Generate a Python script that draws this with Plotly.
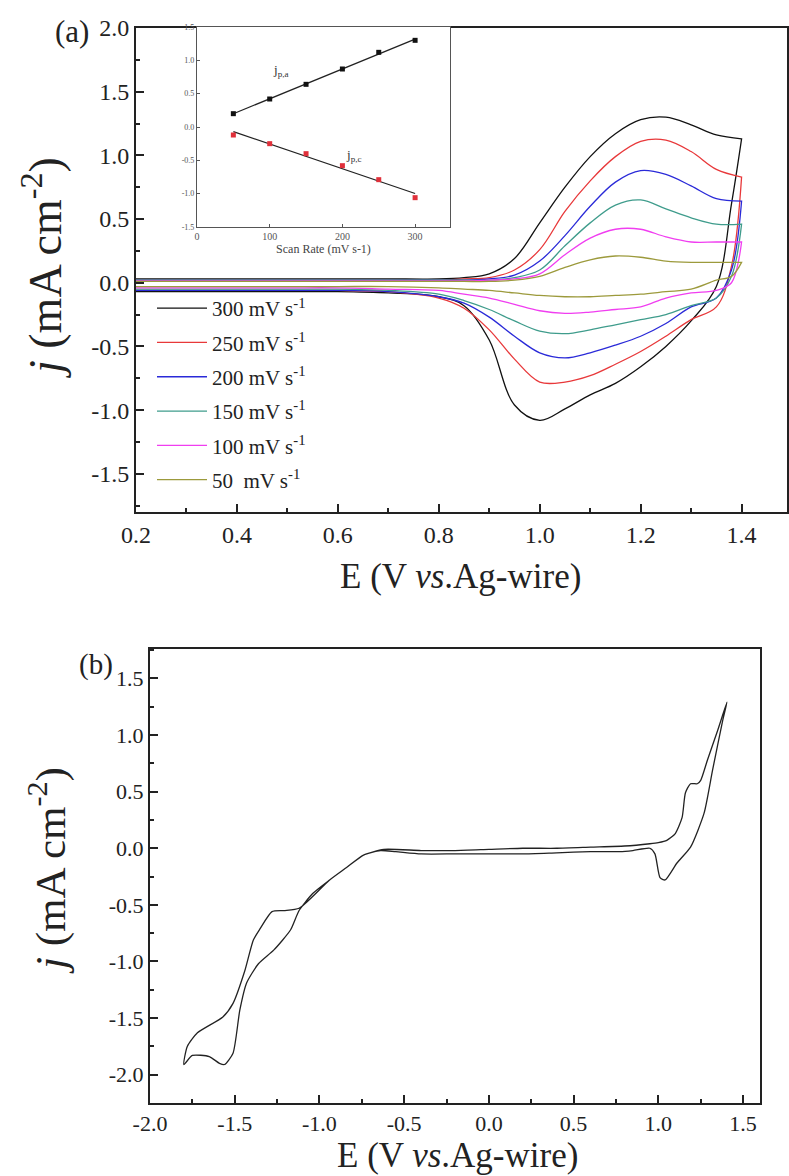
import plotly.graph_objects as go
import numpy as np

# ---------------- Panel (a) data ----------------
E_fwd = [0.2, 0.3, 0.4, 0.5, 0.6, 0.7, 0.8, 0.85, 0.9, 0.95, 1.0, 1.05, 1.1, 1.15, 1.2, 1.25, 1.3, 1.35, 1.4]
E_rev = [1.4, 1.38, 1.35, 1.3, 1.25, 1.2, 1.15, 1.1, 1.05, 1.0, 0.95, 0.9, 0.85, 0.8, 0.7, 0.6, 0.5, 0.4, 0.3, 0.2]

scan_labels = ["300 mV s<sup>-1</sup>", "250 mV s<sup>-1</sup>", "200 mV s<sup>-1</sup>",
               "150 mV s<sup>-1</sup>", "100 mV s<sup>-1</sup>", "50  mV s<sup>-1</sup>"]
colors = ["#111111", "#e8383a", "#2a2ad8", "#3f9c8c", "#f03ef0", "#9c9a3c"]

j300_fwd = [0.03, 0.03, 0.03, 0.03, 0.03, 0.03, 0.03, 0.04, 0.07, 0.19, 0.47, 0.75, 0.99, 1.17, 1.28, 1.30, 1.24, 1.16, 1.13]
j300_rev = [1.13, 0.62, -0.03, -0.30, -0.50, -0.66, -0.79, -0.88, -0.99, -1.08, -0.96, -0.45, -0.18, -0.11, -0.08, -0.07, -0.07, -0.07, -0.07, -0.07]
j250_fwd = [0.02, 0.02, 0.02, 0.02, 0.02, 0.02, 0.02, 0.03, 0.04, 0.10, 0.26, 0.56, 0.80, 0.99, 1.11, 1.12, 1.03, 0.89, 0.83]
j250_rev = [0.83, 0.13, -0.19, -0.29, -0.42, -0.54, -0.64, -0.73, -0.78, -0.78, -0.60, -0.37, -0.20, -0.12, -0.07, -0.06, -0.06, -0.06, -0.06, -0.06]
j200_fwd = [0.02, 0.02, 0.02, 0.02, 0.02, 0.02, 0.02, 0.02, 0.03, 0.06, 0.17, 0.37, 0.60, 0.79, 0.88, 0.85, 0.76, 0.66, 0.64]
j200_rev = [0.64, 0.10, -0.12, -0.19, -0.32, -0.42, -0.49, -0.55, -0.59, -0.55, -0.42, -0.27, -0.16, -0.11, -0.07, -0.06, -0.06, -0.06, -0.06, -0.06]
j150_fwd = [0.02, 0.02, 0.02, 0.02, 0.02, 0.02, 0.02, 0.02, 0.02, 0.04, 0.10, 0.29, 0.47, 0.61, 0.65, 0.58, 0.51, 0.46, 0.46]
j150_rev = [0.46, 0.05, -0.12, -0.18, -0.25, -0.29, -0.33, -0.37, -0.40, -0.38, -0.30, -0.21, -0.14, -0.09, -0.06, -0.05, -0.05, -0.05, -0.05, -0.05]
j100_fwd = [0.015, 0.015, 0.015, 0.015, 0.015, 0.015, 0.015, 0.015, 0.02, 0.03, 0.07, 0.22, 0.35, 0.42, 0.42, 0.36, 0.32, 0.32, 0.32]
j100_rev = [0.32, 0.00, -0.06, -0.08, -0.12, -0.19, -0.21, -0.23, -0.24, -0.22, -0.17, -0.12, -0.09, -0.06, -0.05, -0.04, -0.04, -0.04, -0.04, -0.04]
j50_fwd = [0.01, 0.01, 0.01, 0.01, 0.01, 0.01, 0.01, 0.01, 0.01, 0.02, 0.05, 0.12, 0.18, 0.21, 0.20, 0.17, 0.16, 0.16, 0.16]
j50_rev = [0.16, 0.05, 0.02, -0.05, -0.07, -0.09, -0.10, -0.11, -0.11, -0.10, -0.08, -0.06, -0.05, -0.04, -0.03, -0.03, -0.03, -0.03, -0.03, -0.03]

series_fwd = [j300_fwd, j250_fwd, j200_fwd, j150_fwd, j100_fwd, j50_fwd]
series_rev = [j300_rev, j250_rev, j200_rev, j150_rev, j100_rev, j50_rev]

# tick labels (hyphen minus as in the original)
ya_ticks = [-1.5, -1.0, -0.5, 0.0, 0.5, 1.0, 1.5, 2.0]
ya_text = ["-1.5", "-1.0", "-0.5", "0.0", "0.5", "1.0", "1.5", "2.0"]
xa_ticks = [0.2, 0.4, 0.6, 0.8, 1.0, 1.2, 1.4]
xa_text = ["0.2", "0.4", "0.6", "0.8", "1.0", "1.2", "1.4"]

# ---------------- Inset data ----------------
scan_rate = [50, 100, 150, 200, 250, 300]
jpa = [0.20, 0.42, 0.64, 0.87, 1.12, 1.30]
jpc = [-0.12, -0.25, -0.40, -0.58, -0.79, -1.06]
yi_ticks = [-1.5, -1.0, -0.5, 0.0, 0.5, 1.0, 1.5]
yi_text = ["-1.5", "-1.0", "-0.5", "0.0", "0.5", "1.0", "1.5"]

# ---------------- Panel (b) data ----------------
Eb = [-0.62, -0.4, -0.2, 0.0, 0.2, 0.4, 0.6, 0.8, 0.95, 1.0, 1.05, 1.10, 1.14, 1.16, 1.19, 1.23, 1.25, 1.29, 1.35, 1.405,
      1.38, 1.32, 1.27, 1.19, 1.11, 1.04, 1.01, 0.98, 0.95, 0.85, 0.77, 0.6, 0.4, 0.2, 0.0, -0.2, -0.4, -0.55,
      -0.64, -0.74, -0.84, -0.94, -1.04, -1.12, -1.17, -1.27, -1.36, -1.43, -1.47, -1.51, -1.56, -1.59, -1.65, -1.75, -1.80,
      -1.78, -1.72, -1.57, -1.51, -1.44, -1.39, -1.35, -1.28, -1.21, -1.12, -0.94, -0.84, -0.74, -0.62]
jb = [-0.01, -0.02, -0.02, -0.01, 0.0, 0.0, 0.01, 0.02, 0.04, 0.05, 0.07, 0.13, 0.27, 0.49, 0.57, 0.57, 0.60, 0.78, 1.04, 1.29,
      1.13, 0.69, 0.31, 0.01, -0.13, -0.28, -0.26, -0.05, 0.0, -0.02, -0.03, -0.03, -0.04, -0.05, -0.05, -0.05, -0.05, -0.03,
      -0.02, -0.06, -0.17, -0.28, -0.40, -0.55, -0.72, -0.90, -1.02, -1.19, -1.43, -1.81, -1.91, -1.90, -1.84, -1.83, -1.91,
      -1.75, -1.63, -1.49, -1.37, -1.08, -0.81, -0.71, -0.56, -0.55, -0.53, -0.28, -0.17, -0.06, -0.01]
xb_ticks = [-2.0, -1.5, -1.0, -0.5, 0.0, 0.5, 1.0, 1.5]
xb_text = ["-2.0", "-1.5", "-1.0", "-0.5", "0.0", "0.5", "1.0", "1.5"]
yb_ticks = [-2.0, -1.5, -1.0, -0.5, 0.0, 0.5, 1.0, 1.5]
yb_text = ["-2.0", "-1.5", "-1.0", "-0.5", "0.0", "0.5", "1.0", "1.5"]

SERIF = "Liberation Serif, Times New Roman, serif"
W, H = 789, 1176

fig = go.Figure()

for name, col, jf, jr in zip(scan_labels, colors, series_fwd, series_rev):
    fig.add_trace(go.Scatter(
        x=E_fwd + E_rev, y=jf + jr, mode="lines", name=name, legendgroup=name,
        line=dict(color=col, width=1.3, shape="spline", smoothing=1.0),
        xaxis="x", yaxis="y"))

# inset
for ydat, col in [(jpa, "#111111"), (jpc, "#e0303a")]:
    coef = np.polyfit(scan_rate, ydat, 1)
    xs = [scan_rate[0], scan_rate[-1]]
    fig.add_trace(go.Scatter(x=xs, y=list(np.polyval(coef, xs)), mode="lines",
                             line=dict(color="#222222", width=1.2), showlegend=False,
                             xaxis="x3", yaxis="y3"))
    fig.add_trace(go.Scatter(x=scan_rate, y=ydat, mode="markers",
                             marker=dict(color=col, size=5, symbol="square"), showlegend=False,
                             xaxis="x3", yaxis="y3"))

# panel b
fig.add_trace(go.Scatter(x=Eb, y=jb, mode="lines", showlegend=False,
                         line=dict(color="#222222", width=1.3, shape="spline", smoothing=0.6),
                         xaxis="x2", yaxis="y2"))

def px_x(p):
    return p / W

def px_y(p):
    return 1 - p / H

def main_axis(size):
    return dict(showline=True, linecolor="#222222", linewidth=2, mirror=True,
                ticks="inside", ticklen=8, tickwidth=2, tickcolor="#222222",
                showgrid=False, zeroline=False,
                tickfont=dict(family=SERIF, size=size, color="#222222"))

def minor(dt):
    return dict(ticks="inside", dtick=dt, ticklen=4, tickwidth=1.5, tickcolor="#222222")

fig.update_layout(
    width=W, height=H, margin=dict(l=0, r=0, t=0, b=0, autoexpand=False),
    paper_bgcolor="white", plot_bgcolor="white",
    xaxis=dict(domain=[px_x(136), px_x(787)], range=[0.2, 1.49],
               tickvals=xa_ticks, ticktext=xa_text, minor=minor(0.1),
               anchor="y", **main_axis(24)),
    yaxis=dict(domain=[px_y(512), px_y(28)], range=[-1.8, 2.0],
               tickvals=ya_ticks, ticktext=ya_text, minor=minor(0.25),
               anchor="x", **main_axis(24)),
    xaxis2=dict(domain=[px_x(150), px_x(760)], range=[-2.0, 1.6],
                tickvals=xb_ticks, ticktext=xb_text, minor=minor(0.25),
                anchor="y2", **main_axis(22)),
    yaxis2=dict(domain=[px_y(1103), px_y(649)], range=[-2.25, 1.76],
                tickvals=yb_ticks, ticktext=yb_text, minor=minor(0.25),
                anchor="x2", **main_axis(22)),
    xaxis3=dict(domain=[px_x(197), px_x(450)], range=[0, 348], dtick=100, tick0=0,
                showline=True, linecolor="#555555", linewidth=1.2, mirror=True,
                ticks="inside", ticklen=3, tickcolor="#555555", showgrid=False, zeroline=False,
                tickfont=dict(family=SERIF, size=10, color="#555555"), anchor="y3",
                title=dict(text="Scan Rate (mV s-1)", font=dict(family=SERIF, size=12, color="#444444"), standoff=3)),
    yaxis3=dict(domain=[px_y(227), px_y(27)], range=[-1.5, 1.5],
                tickvals=yi_ticks, ticktext=yi_text,
                showline=True, linecolor="#555555", linewidth=1.2, mirror=True,
                ticks="inside", ticklen=3, tickcolor="#555555", showgrid=False, zeroline=False,
                tickfont=dict(family=SERIF, size=8, color="#555555"), anchor="x3"),
    legend=dict(x=px_x(152), y=px_y(288), xanchor="left", yanchor="top",
                bgcolor="rgba(0,0,0,0)", font=dict(family=SERIF, size=21, color="#222222"),
                tracegroupgap=4, itemwidth=50),
    showlegend=True,
)

annotations = [
    dict(text="(a)", x=px_x(72), y=px_y(31), font=dict(size=31)),
    dict(text="(b)", x=px_x(96), y=px_y(664), font=dict(size=29)),
    dict(text="<i>j</i> (mA cm<sup>-2</sup>)", x=px_x(42), y=px_y(268), textangle=-90, font=dict(size=46)),
    dict(text="<i>j</i> (mA cm<sup>-2</sup>)", x=px_x(47), y=px_y(871), textangle=-90, font=dict(size=43)),
    dict(text="E (V <i>vs</i>.Ag-wire)", x=px_x(460), y=px_y(576), font=dict(size=35)),
    dict(text="E (V <i>vs</i>.Ag-wire)", x=px_x(457), y=px_y(1155), font=dict(size=35)),
]
for a in annotations:
    a.update(xref="paper", yref="paper", showarrow=False, xanchor="center", yanchor="middle")
    a["font"] = dict(family=SERIF, color="#222222", size=a["font"]["size"])
    fig.add_annotation(**a)

fig.add_annotation(text="j<sub>p,a</sub>", x=115, y=0.85, xref="x3", yref="y3", showarrow=False,
                   font=dict(family=SERIF, size=13, color="#333333"))
fig.add_annotation(text="j<sub>p,c</sub>", x=215, y=-0.42, xref="x3", yref="y3", showarrow=False,
                   font=dict(family=SERIF, size=13, color="#333333"))

fig.write_html("out.html", config={"displayModeBar": False},
               post_script="document.body.style.margin='0';document.body.style.overflow='hidden';")
